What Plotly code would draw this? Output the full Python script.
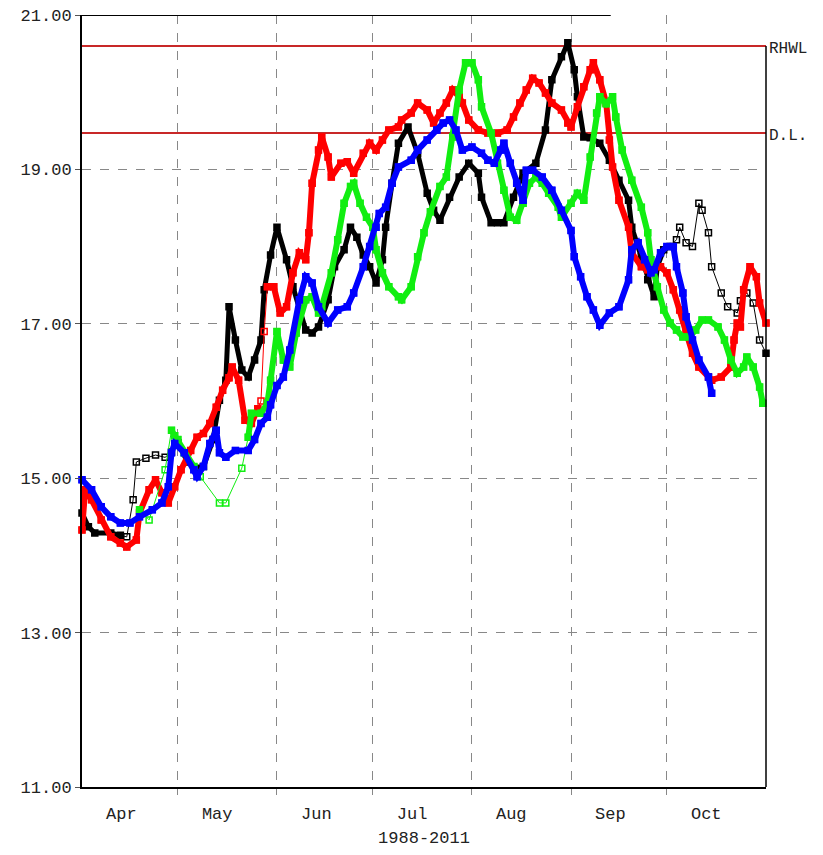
import plotly.graph_objects as go

# ---------------- data (days since 1 April, values) ----------------
black_days = [0, 2, 4, 9, 12, 14, 16, 17, 20, 23, 26, 28, 30, 33, 36, 38, 41, 43, 45, 46,
              48, 50, 52, 54, 56, 57, 59, 61, 64, 66, 68, 70, 72, 74, 77, 79, 82, 84, 86, 88,
              90, 92, 94, 95, 97, 99, 102, 105, 108, 110, 112, 115, 118, 121, 124, 125, 128,
              130, 132, 135, 138, 142, 145, 147, 150, 152, 154, 155, 157, 159, 162, 165, 168,
              171, 172, 175, 177, 179, 180, 182, 184, 186, 187, 189, 191, 193, 194, 196, 197,
              200, 202, 205, 206, 208, 210, 212, 214]
black_vals = [14.55, 14.37, 14.29, 14.29, 14.26, 14.24, 14.72, 15.21, 15.26, 15.30, 15.27, 15.34,
              15.46, 15.21, 15.13, 15.15, 15.50, 16.01, 16.27, 17.22, 16.79, 16.40, 16.31, 16.53,
              16.79, 17.44, 17.89, 18.25, 17.83, 17.48, 17.18, 16.92, 16.88, 16.96, 17.31, 17.74,
              17.96, 18.25, 18.12, 17.89, 17.74, 17.53, 17.83, 18.25, 18.82, 19.34, 19.55, 19.21,
              18.69, 18.47, 18.34, 18.64, 18.90, 19.08, 18.95, 18.64, 18.31, 18.31, 18.31, 18.64,
              18.95, 19.08, 19.51, 20.16, 20.46, 20.64, 20.29, 19.94, 19.42, 19.41, 19.34, 19.12,
              18.86, 18.60, 18.25, 17.87, 17.57, 17.35, 17.74, 17.96, 18.00, 18.09, 18.25, 18.05,
              18.00, 18.56, 18.47, 18.18, 17.74, 17.40, 17.22, 17.14, 17.30, 17.40, 17.27, 16.79,
              16.62]

red_days = [0, 1, 3, 6, 9, 12, 14, 17, 18, 21, 23, 25, 27, 29, 31, 34, 36, 38, 40, 42, 44, 46,
            47, 49, 51, 53, 55, 56, 57, 58, 60, 62, 64, 66, 68, 70, 71, 72, 74, 75, 77, 78, 81,
            83, 85, 88, 90, 92, 94, 96, 99, 100, 103, 105, 108, 110, 112, 114, 116, 118, 119,
            121, 124, 127, 130, 133, 135, 137, 139, 141, 143, 145, 147, 150, 152, 153, 155, 157,
            159, 160, 162, 164, 165, 166, 168, 171, 172, 175, 177, 179, 181, 183, 185, 187, 189,
            191, 193, 196, 197, 200, 203, 204, 205, 206, 207, 209, 211, 212, 214]
red_vals = [14.33, 14.85, 14.72, 14.46, 14.24, 14.16, 14.11, 14.20, 14.55, 14.85, 14.98, 14.81,
            14.68, 14.89, 15.11, 15.36, 15.53, 15.58, 15.71, 15.92, 16.14, 16.30, 16.44, 16.27,
            15.75, 15.71, 15.90, 16.00, 16.90, 17.48, 17.48, 17.14, 17.22, 17.66, 17.92, 17.83,
            18.18, 18.82, 19.25, 19.42, 19.16, 18.90, 19.08, 19.10, 18.95, 19.21, 19.34, 19.25,
            19.38, 19.51, 19.55, 19.64, 19.73, 19.86, 19.77, 19.60, 19.73, 19.86, 20.03, 19.94,
            19.86, 19.64, 19.51, 19.47, 19.47, 19.51, 19.68, 19.86, 20.03, 20.18, 20.12, 19.99,
            19.86, 19.77, 19.60, 19.55, 19.81, 20.07, 20.29, 20.38, 20.16, 19.86, 19.38, 19.03,
            18.60, 18.25, 17.92, 17.74, 17.70, 17.74, 17.74, 17.66, 17.44, 17.18, 16.92, 16.62,
            16.44, 16.31, 16.27, 16.31, 16.44, 16.79, 17.01, 16.96, 17.44, 17.74, 17.61, 17.27,
            17.01]

green_days = [18, 21, 26, 28, 29, 30, 32, 35, 37, 43, 45, 50, 52, 53, 56, 58, 59, 61, 63, 65,
              67, 70, 72, 74, 75, 78, 80, 82, 84, 85, 87, 89, 91, 92, 94, 96, 99, 100, 103, 105,
              107, 109, 112, 114, 116, 118, 120, 122, 124, 125, 128, 130, 132, 134, 136, 138,
              140, 142, 144, 146, 149, 150, 153, 155, 157, 159, 161, 162, 164, 166, 167, 169,
              172, 175, 177, 178, 180, 182, 184, 186, 188, 190, 192, 194, 196, 199, 201, 203,
              205, 207, 208, 210, 212, 213]
green_vals = [14.59, 14.46, 15.11, 15.62, 15.55, 15.50, 15.33, 15.15, 15.02, 14.68, 14.68, 15.13,
              15.53, 15.84, 15.84, 15.97, 16.27, 16.90, 16.53, 16.44, 16.88, 17.31, 17.35, 17.14,
              17.22, 17.66, 18.09, 18.56, 18.78, 18.82, 18.56, 18.38, 18.25, 17.96, 17.66, 17.48,
              17.35, 17.31, 17.48, 17.87, 18.18, 18.45, 18.78, 18.90, 19.42, 20.03, 20.38, 20.38,
              20.16, 19.81, 19.47, 19.08, 18.73, 18.38, 18.34, 18.56, 18.82, 18.90, 18.82, 18.69,
              18.51, 18.38, 18.56, 18.69, 18.60, 19.16, 19.73, 19.94, 19.85, 19.94, 19.68, 19.25,
              18.86, 18.51, 18.18, 17.83, 17.48, 17.18, 17.01, 16.92, 16.83, 16.83, 16.92, 17.05,
              17.05, 16.96, 16.79, 16.53, 16.36, 16.44, 16.57, 16.44, 16.18, 15.97]

blue_days = [0, 3, 6, 9, 12, 15, 18, 22, 25, 27, 28, 29, 32, 35, 36, 38, 40, 42, 43, 45, 48, 52,
             54, 56, 58, 59, 61, 63, 65, 68, 70, 72, 74, 77, 80, 83, 85, 88, 90, 92, 93, 95, 97,
             99, 103, 105, 108, 111, 113, 115, 117, 119, 122, 125, 127, 129, 131, 132, 134, 136,
             138, 139, 141, 144, 147, 150, 153, 154, 156, 158, 160, 162, 165, 168, 171, 172, 174,
             176, 178, 179, 181, 183, 185, 186, 188, 189, 191, 193, 196, 197]
blue_vals = [14.98, 14.85, 14.63, 14.50, 14.42, 14.42, 14.50, 14.59, 14.68, 14.89, 15.33, 15.45,
             15.33, 15.11, 15.02, 15.15, 15.45, 15.62, 15.33, 15.27, 15.36, 15.36, 15.50, 15.71,
             15.79, 15.95, 16.20, 16.31, 16.66, 17.31, 17.61, 17.53, 17.22, 17.01, 17.18, 17.22,
             17.40, 17.74, 18.00, 18.25, 18.43, 18.51, 18.82, 19.03, 19.12, 19.25, 19.38, 19.51,
             19.60, 19.64, 19.51, 19.25, 19.29, 19.21, 19.12, 19.08, 19.25, 19.34, 19.08, 18.82,
             18.60, 18.99, 18.99, 18.90, 18.73, 18.47, 18.21, 17.87, 17.61, 17.35, 17.18, 16.98,
             17.14, 17.22, 17.57, 17.96, 18.05, 17.83, 17.66, 17.70, 17.92, 18.00, 18.00, 17.74,
             17.40, 17.09, 16.79, 16.53, 16.31, 16.10]

month_starts = [0, 30, 61, 91, 122, 153, 183, 214]
month_labels = ["Apr", "May", "Jun", "Jul", "Aug", "Sep", "Oct"]
y_ticks = [11, 13, 15, 17, 19, 21]
ref_levels = [20.60, 19.47]
ref_names = ["RHWL", "D.L."]
x_title = "1988-2011"

FONT = "Liberation Mono"

# day ranges drawn as thin line with sparse open squares (as in the source)
thin_ranges = {
    "black": [(12, 30), (184, 214)],
    "red": [(55, 58)],
    "green": [(18, 28), (35, 52)],
    "blue": [],
}

fig = go.Figure()

series = [
    (black_days, black_vals, "#000000", "black", 5),
    (red_days, red_vals, "#ff0000", "red", 6),
    (green_days, green_vals, "#11ee11", "green", 6),
    (blue_days, blue_vals, "#0000ff", "blue", 6),
]
for d, v, c, name, w in series:
    # thin line + open squares for the full series
    fig.add_trace(go.Scatter(
        x=d, y=v, mode="lines+markers", name=name,
        line=dict(color=c, width=1),
        marker=dict(symbol="square-open", size=6, color=c, line=dict(width=1.5, color=c)),
        showlegend=False, cliponaxis=False,
    ))
    # thick band except inside thin ranges
    thick_y = []
    for day, val in zip(d, v):
        inside = any(a < day < b for a, b in thin_ranges[name])
        thick_y.append(None if inside else val)
    fig.add_trace(go.Scatter(
        x=d, y=thick_y, mode="lines+markers", name=name,
        line=dict(color=c, width=w),
        marker=dict(symbol="square", size=w + 1, color=c),
        showlegend=False, cliponaxis=False, connectgaps=False,
    ))

for lvl, nm in zip(ref_levels, ref_names):
    fig.add_shape(type="line", xref="x domain", yref="y", x0=0, x1=1, y0=lvl, y1=lvl,
                  line=dict(color="#c82828", width=2), layer="below")
    fig.add_annotation(xref="x domain", yref="y", x=1.0, y=lvl, text=nm, showarrow=False,
                       xanchor="left", yanchor="middle", xshift=1, yshift=-3,
                       font=dict(family=FONT, size=16, color="#222222"))

# partial top border and right border
fig.add_shape(type="line", xref="x domain", yref="y", x0=0, x1=0.773, y0=21, y1=21,
              line=dict(color="#000000", width=2), layer="above")
fig.add_shape(type="line", xref="x domain", yref="y", x0=1, x1=1, y0=11, y1=ref_levels[0],
              line=dict(color="#000000", width=1.5), layer="above")

tick_pos = [m + 12.3 for m in month_starts[:-1]]

fig.update_layout(
    width=823, height=855,
    margin=dict(l=74, r=65, t=7, b=76),
    paper_bgcolor="white", plot_bgcolor="white",
    font=dict(family=FONT, size=16, color="#222222"),
    xaxis=dict(
        range=[0, 214], tickmode="array", tickvals=tick_pos, ticktext=month_labels,
        ticks="", showgrid=False, zeroline=False, automargin=False,
        ticklabelstandoff=10,
        showline=True, linecolor="#000000", linewidth=2,
        tickfont=dict(family=FONT, size=17, color="#222222"),
        title=dict(text=x_title, font=dict(family=FONT, size=17, color="#222222"), standoff=8),
        minor=dict(tickmode="array", tickvals=month_starts[1:-1], showgrid=True,
                   gridcolor="#888888", griddash="dash", gridwidth=1,
                   ticks="outside", ticklen=6, tickcolor="#888888"),
    ),
    yaxis=dict(
        range=[11, 21], tickmode="array", tickvals=y_ticks,
        ticktext=["%.2f" % t for t in y_ticks], automargin=False,
        ticklabeloverflow="allow",
        ticks="outside", ticklen=5, tickcolor="#555555",
        showgrid=True, gridcolor="#888888", griddash="dash", gridwidth=1,
        zeroline=False, showline=True, linecolor="#000000", linewidth=2,
        tickfont=dict(family=FONT, size=17, color="#222222"),
    ),
)

fig.write_html("out.html")
